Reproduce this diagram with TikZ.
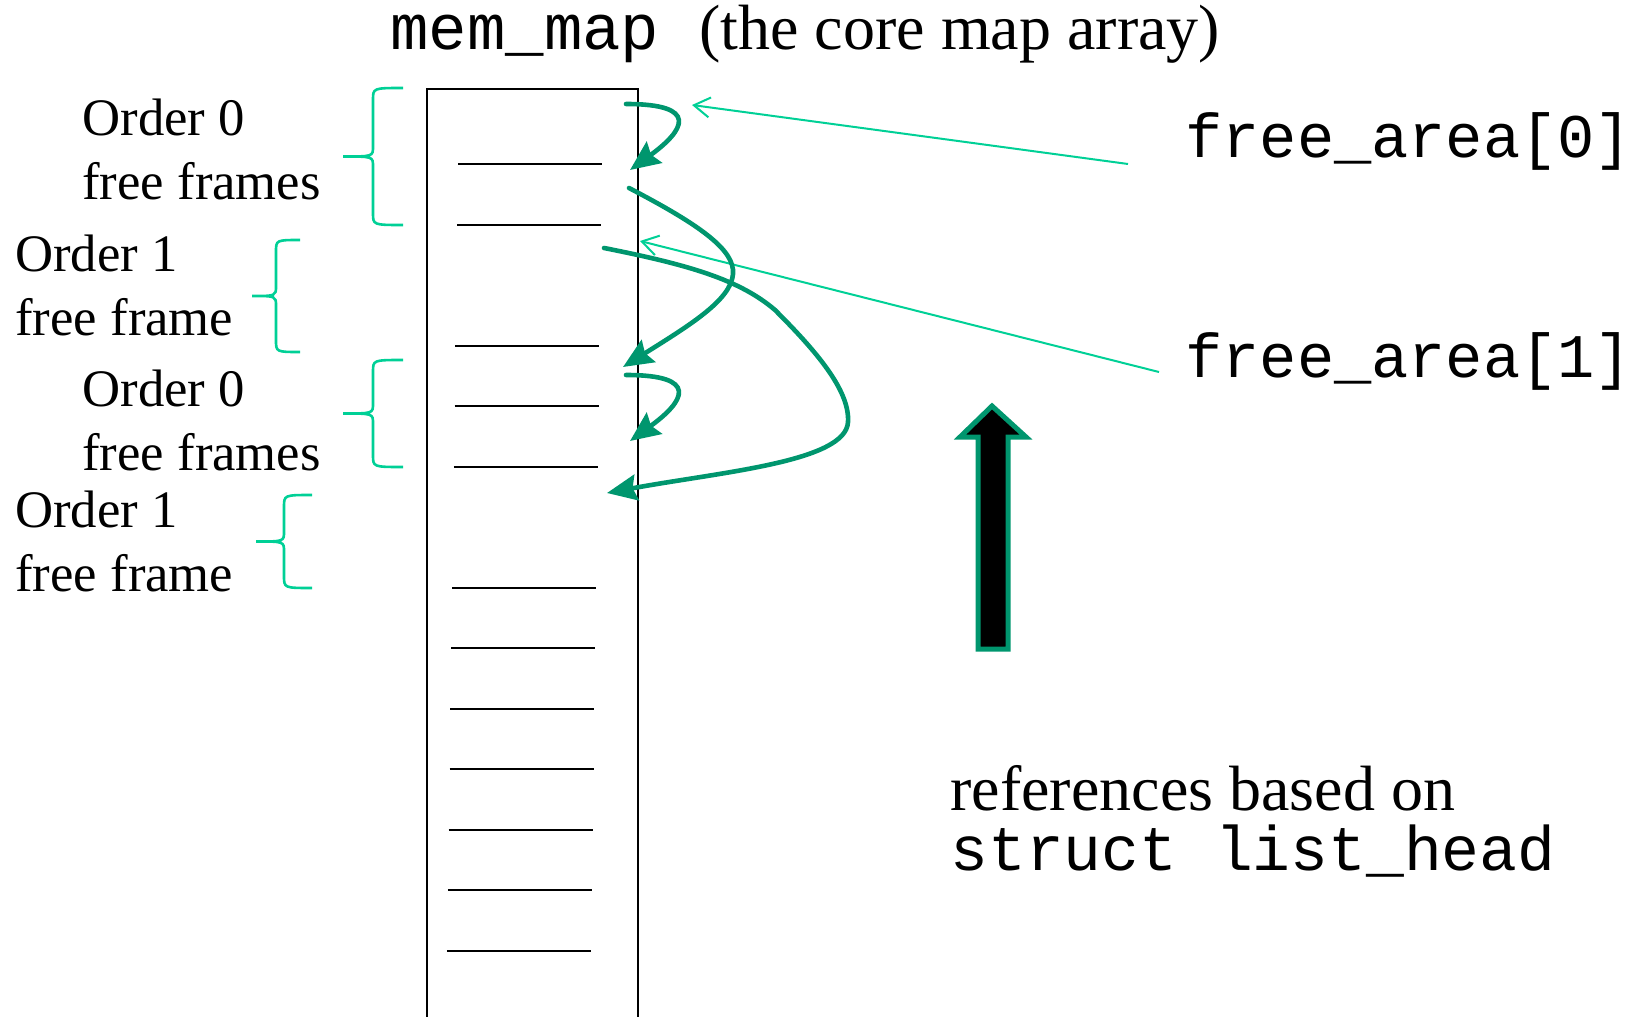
\documentclass[tikz,border=0pt]{standalone}
\usepackage{fontspec}
\setmainfont{Liberation Serif}
\setmonofont{Liberation Mono}
\usetikzlibrary{arrows.meta,positioning}

\definecolor{listgreen}{RGB}{0,150,110}
\definecolor{bracegreen}{RGB}{0,208,150}

% curly brace opening to the right: tip x, half width, top y, bottom y
\newcommand{\orderbrace}[4]{%
  \pgfmathsetmacro{\bs}{#1+#2}%
  \pgfmathsetmacro{\be}{#1+2*#2}%
  \pgfmathsetmacro{\bm}{(#3+#4)/2}%
  \draw[ordbrace] (\be,#3) .. controls (\bs,#3) .. (\bs,#3+12)
    -- (\bs,\bm-10) .. controls (\bs,\bm) .. (#1,\bm)
    .. controls (\bs,\bm) .. (\bs,\bm+10)
    -- (\bs,#4-12) .. controls (\bs,#4) .. (\be,#4);}

\tikzset{
  txt/.style={anchor=base west,inner sep=0pt,font=\fontsize{26.35}{31}\selectfont},
  bigtxt/.style={anchor=base west,inner sep=0pt,font=\fontsize{32}{38}\selectfont},
  code/.style={anchor=base west,inner sep=0pt,font=\fontsize{31}{37}\selectfont\ttfamily},
  slot/.style={line width=1pt},
  link/.style={listgreen,line width=2.3pt,line cap=round,
               -{Stealth[length=15pt,width=13pt,inset=2pt]}},
  ptr/.style={bracegreen,line width=1pt,-{Straight Barb[length=8pt,width=10pt]}},
  ordbrace/.style={bracegreen,line width=1.3pt},
  bigarrow/.style={fill=black,draw=listgreen,line width=2.5pt,line join=miter}
}

\begin{document}
\begin{tikzpicture}[x=0.5pt,y=-0.5pt]
  \useasboundingbox (0,0) rectangle (1641,1016);

  % title
  \node[code,font=\fontsize{32}{38}\selectfont\ttfamily] (memmap) at (390,50) {mem\_map};
  \node[bigtxt] (memmapnote) at (699,50) {(the core map array)};

  % the array
  \draw[line width=1pt] (427,1030) |- (638,89) -- (638,1030);
  \foreach \k in {0,1,3,4,5,7,8,...,13}
    \draw[slot] ({458-0.85*\k},{164+60.5*\k}) -- ++(144,0);

  % left labels
  \node[txt] (o0a) at (82,136) {Order 0};
  \node[txt] (o0b) at (82,199) {free frames};
  \node[txt] (o1a) at (15,271) {Order 1};
  \node[txt] (o1b) at (15,335) {free frame};
  \node[txt] (o2a) at (82,406) {Order 0};
  \node[txt] (o2b) at (82,470) {free frames};
  \node[txt] (o3a) at (15,527) {Order 1};
  \node[txt] (o3b) at (15,591) {free frame};

  \orderbrace{343}{30}{88}{225}
  \orderbrace{252}{24}{240}{352}
  \orderbrace{343}{30}{360}{467}
  \orderbrace{256}{28}{495}{588}

  % list heads
  \node[code] (fa0) at (1185,158) {free\_area[0]};
  \node[code] (fa1) at (1185,377) {free\_area[1]};

  \coordinate (fa0in) at (692,105);
  \coordinate (fa1in) at (640,241);
  \draw[ptr] ([xshift=-28.5pt,yshift=-3pt]fa0.base west) -- (fa0in);
  \draw[ptr] ([xshift=-13pt,yshift=2.5pt]fa1.base west) -- (fa1in);

  % list links
  \coordinate (a0) at (626,104);
  \coordinate (a1) at (630,170);
  \coordinate (b0) at (629,188);
  \coordinate (b1) at (623,367);
  \coordinate (c0) at (604,248);
  \coordinate (c1) at (607,493);
  \coordinate (d0) at (626,375);
  \coordinate (d1) at (630,441);

  \draw[link] (a0) .. controls (700,104) and (685,130) .. (a1);
  \draw[link] (b0) .. controls (700,225) and (735,250) .. (733,274)
              .. controls (731,300) and (690,325) .. (b1);
  \draw[link] (c0) .. controls (690,265) and (740,280) .. (775,310)
              .. controls (815,350) and (850,390) .. (848,422)
              .. controls (846,462) and (720,472) .. (c1);
  \draw[link] (d0) .. controls (700,375) and (685,401) .. (d1);

  % block arrow
  \draw[bigarrow] (992,406) -- (1026,437) -- (1008,437) -- (1008,649)
    -- (978,649) -- (978,437) -- (960,437) -- cycle;

  \node[bigtxt] (refs) at (950,810) {references based on};
  \node[code,font=\fontsize{31.5}{38}\selectfont\ttfamily] (lhead) at (950,870) {struct list\_head};
\end{tikzpicture}
\end{document}
